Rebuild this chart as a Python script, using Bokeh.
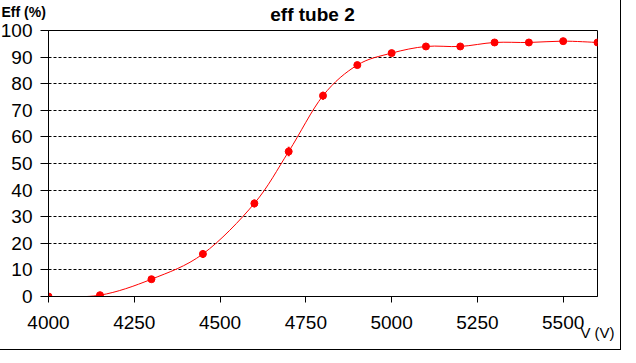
from bokeh.plotting import figure
from bokeh.models import Label, FixedTicker, Whisker, ColumnDataSource
from bokeh.embed import file_html
from bokeh.resources import INLINE

# data
voltage = [4000, 4150, 4300, 4450, 4600, 4700, 4800, 4900, 5000, 5100, 5200, 5300, 5400, 5500, 5600]
eff = [0.0, 0.5, 6.5, 16.0, 35.0, 54.5, 75.5, 87.0, 91.5, 94.0, 94.0, 95.5, 95.5, 96.0, 95.5]
err = [0.3, 0.5, 1.0, 1.5, 1.5, 1.8, 1.5, 1.2, 0.8, 0.6, 0.6, 0.6, 0.5, 0.5, 0.4]
x_ticks = [4000, 4250, 4500, 4750, 5000, 5250, 5500]
y_ticks = [0, 10, 20, 30, 40, 50, 60, 70, 80, 90, 100]

title_text = "eff tube 2"
y_title = "Eff (%)"
x_title = "V (V)"

RED = "#FF0000"
FONT = "Liberation Sans"

p = figure(width=634, height=363, output_backend="svg", toolbar_location=None,
           x_range=(4000, 5600), y_range=(0, 100),
           min_border_left=56, min_border_right=29, min_border_top=38, min_border_bottom=59)
# outer chart border drawn as an inset shadow, visible through the transparent border area
p.styles = {"margin": "-8px -8px -8px -8px",
            "background-color": "white",
            "box-shadow": "inset 0 0 0 5px white, inset 0 0 0 6px black"}
p.outline_line_color = "black"
p.outline_line_width = 1
p.background_fill_color = "white"
p.border_fill_color = None

p.xgrid.visible = False
p.ygrid.grid_line_color = "black"
p.ygrid.grid_line_dash = "3 2"
p.ygrid.grid_line_width = 1

for ax in (p.xaxis[0], p.yaxis[0]):
    ax.axis_line_color = "black"
    ax.major_tick_line_color = "black"
    ax.major_tick_in = 0
    ax.minor_tick_line_color = None
    ax.major_label_text_font = FONT
    ax.major_label_text_font_size = "19px"
    ax.major_label_text_color = "black"

p.xaxis.ticker = FixedTicker(ticks=x_ticks)
p.yaxis.ticker = FixedTicker(ticks=y_ticks)
p.xaxis.major_tick_out = 6
p.yaxis.major_tick_out = 8
p.xaxis.major_label_standoff = 13
p.yaxis.major_label_standoff = 8

# smoothed curve (Catmull-Rom style bezier through the data points)
n = len(voltage)
x0s, y0s, x1s, y1s, cx0, cy0, cx1, cy1 = [], [], [], [], [], [], [], []
for i in range(n - 1):
    xa, ya = voltage[i], eff[i]
    xb, yb = voltage[i + 1], eff[i + 1]
    xp, yp = voltage[max(i - 1, 0)], eff[max(i - 1, 0)]
    xn, yn = voltage[min(i + 2, n - 1)], eff[min(i + 2, n - 1)]
    x0s.append(xa); y0s.append(ya); x1s.append(xb); y1s.append(yb)
    cx0.append(xa + (xb - xp) / 6.0); cy0.append(ya + (yb - yp) / 6.0)
    cx1.append(xb - (xn - xa) / 6.0); cy1.append(yb - (yn - ya) / 6.0)
p.bezier(x0=x0s, y0=y0s, x1=x1s, y1=y1s, cx0=cx0, cy0=cy0, cx1=cx1, cy1=cy1,
         line_color=RED, line_width=1)

src = ColumnDataSource(dict(x=voltage, y=eff,
                            lo=[e - d for e, d in zip(eff, err)],
                            hi=[e + d for e, d in zip(eff, err)]))
w = Whisker(source=src, base="x", lower="lo", upper="hi", dimension="height",
            line_color=RED, line_width=2)
w.upper_head.size = 0
w.lower_head.size = 0
p.add_layout(w)
p.scatter("x", "y", source=src, size=7, fill_color=RED, line_color=RED)

# side-panel labels (not clipped to the frame); x from frame left, y up from slot bottom
p.add_layout(Label(x=-47, y=27, x_units="screen", y_units="screen", text=y_title,
                   text_font=FONT, text_font_style="bold", text_font_size="14px",
                   text_align="left", text_baseline="top", text_color="black"), "above")
p.add_layout(Label(x=264, y=0, x_units="screen", y_units="screen", text=title_text,
                   text_font=FONT, text_font_style="bold", text_font_size="19px",
                   text_align="center", text_baseline="alphabetic", text_color="black"), "above")
p.add_layout(Label(x=549, y=16, x_units="screen", y_units="screen", text=x_title,
                   text_font=FONT, text_font_size="15px",
                   text_align="center", text_baseline="middle", text_color="black"), "below")

open("out.html", "w").write(file_html(p, INLINE))
